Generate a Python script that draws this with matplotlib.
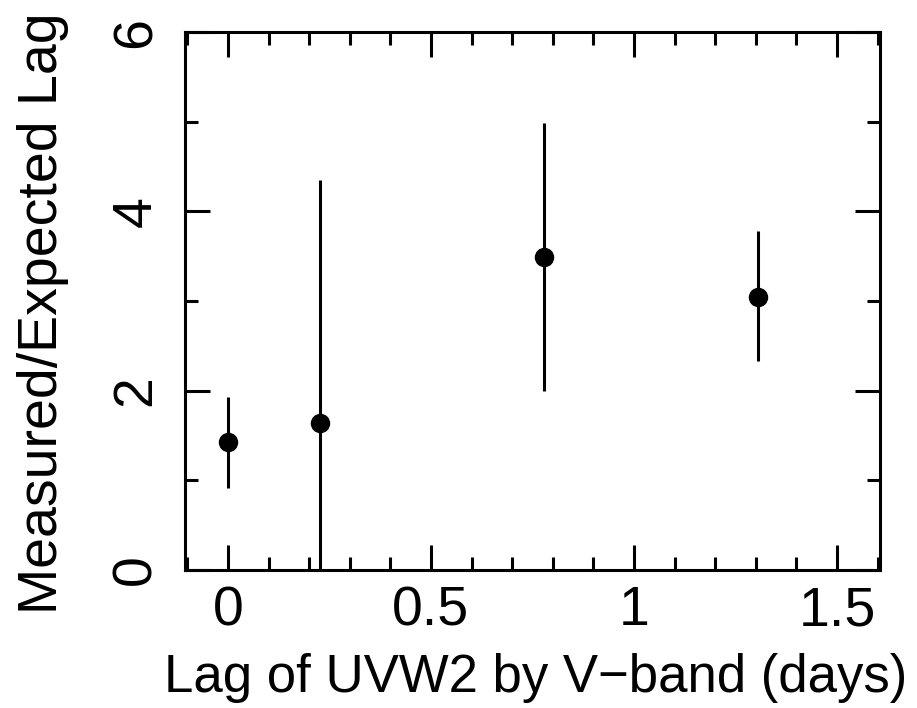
import matplotlib
matplotlib.use("Agg")
import matplotlib.pyplot as plt
from matplotlib.ticker import MultipleLocator, FuncFormatter

plt.rcParams.update({"font.family": ["Liberation Sans", "DejaVu Sans"], "font.size": 40})

# lag of UVW2 by V-band (days) vs measured/expected lag
lag = [0.0, 0.227, 0.778, 1.305]
ratio = [1.43, 1.64, 3.49, 3.05]
err_lo = [0.51, 1.80, 1.49, 0.72]
err_hi = [0.50, 2.71, 1.49, 0.73]

fig = plt.figure(figsize=(9.17, 7.08), dpi=100)
ax = fig.add_axes([0.2017, 0.1949, 0.7580, 0.7599])
ax.errorbar(lag, ratio, yerr=[err_lo, err_hi], fmt="o", color="black",
            markersize=13, elinewidth=2.2, capsize=0)
ax.set_xlim(-0.106, 1.606)
ax.set_ylim(0, 6)
ax.xaxis.set_major_locator(MultipleLocator(0.5))
ax.xaxis.set_minor_locator(MultipleLocator(0.1))
ax.yaxis.set_major_locator(MultipleLocator(2))
ax.yaxis.set_minor_locator(MultipleLocator(1))
ax.xaxis.set_major_formatter(FuncFormatter(lambda v, _p: f"{v:g}"))
ax.yaxis.set_major_formatter(FuncFormatter(lambda v, _p: f"{v:g}"))
for s in ax.spines.values():
    s.set_linewidth(2.2)
ax.tick_params(which="both", direction="in", top=True, right=True, width=2.2)
ax.tick_params(which="major", length=18)
ax.tick_params(which="minor", length=9.5)
ax.tick_params(axis="x", which="major", pad=11)
ax.tick_params(axis="y", which="major", pad=16, labelrotation=90)
for t in ax.get_yticklabels():
    t.set_va("center")
ax.set_xlabel("Lag of UVW2 by V\u2212band (days)", fontsize=38)
ax.xaxis.set_label_coords(0.505, -0.155)
ax.set_ylabel("Measured/Expected Lag", fontsize=40)
ax.yaxis.set_label_coords(-0.167, 0.478)
fig.savefig("out.png", dpi=100)
